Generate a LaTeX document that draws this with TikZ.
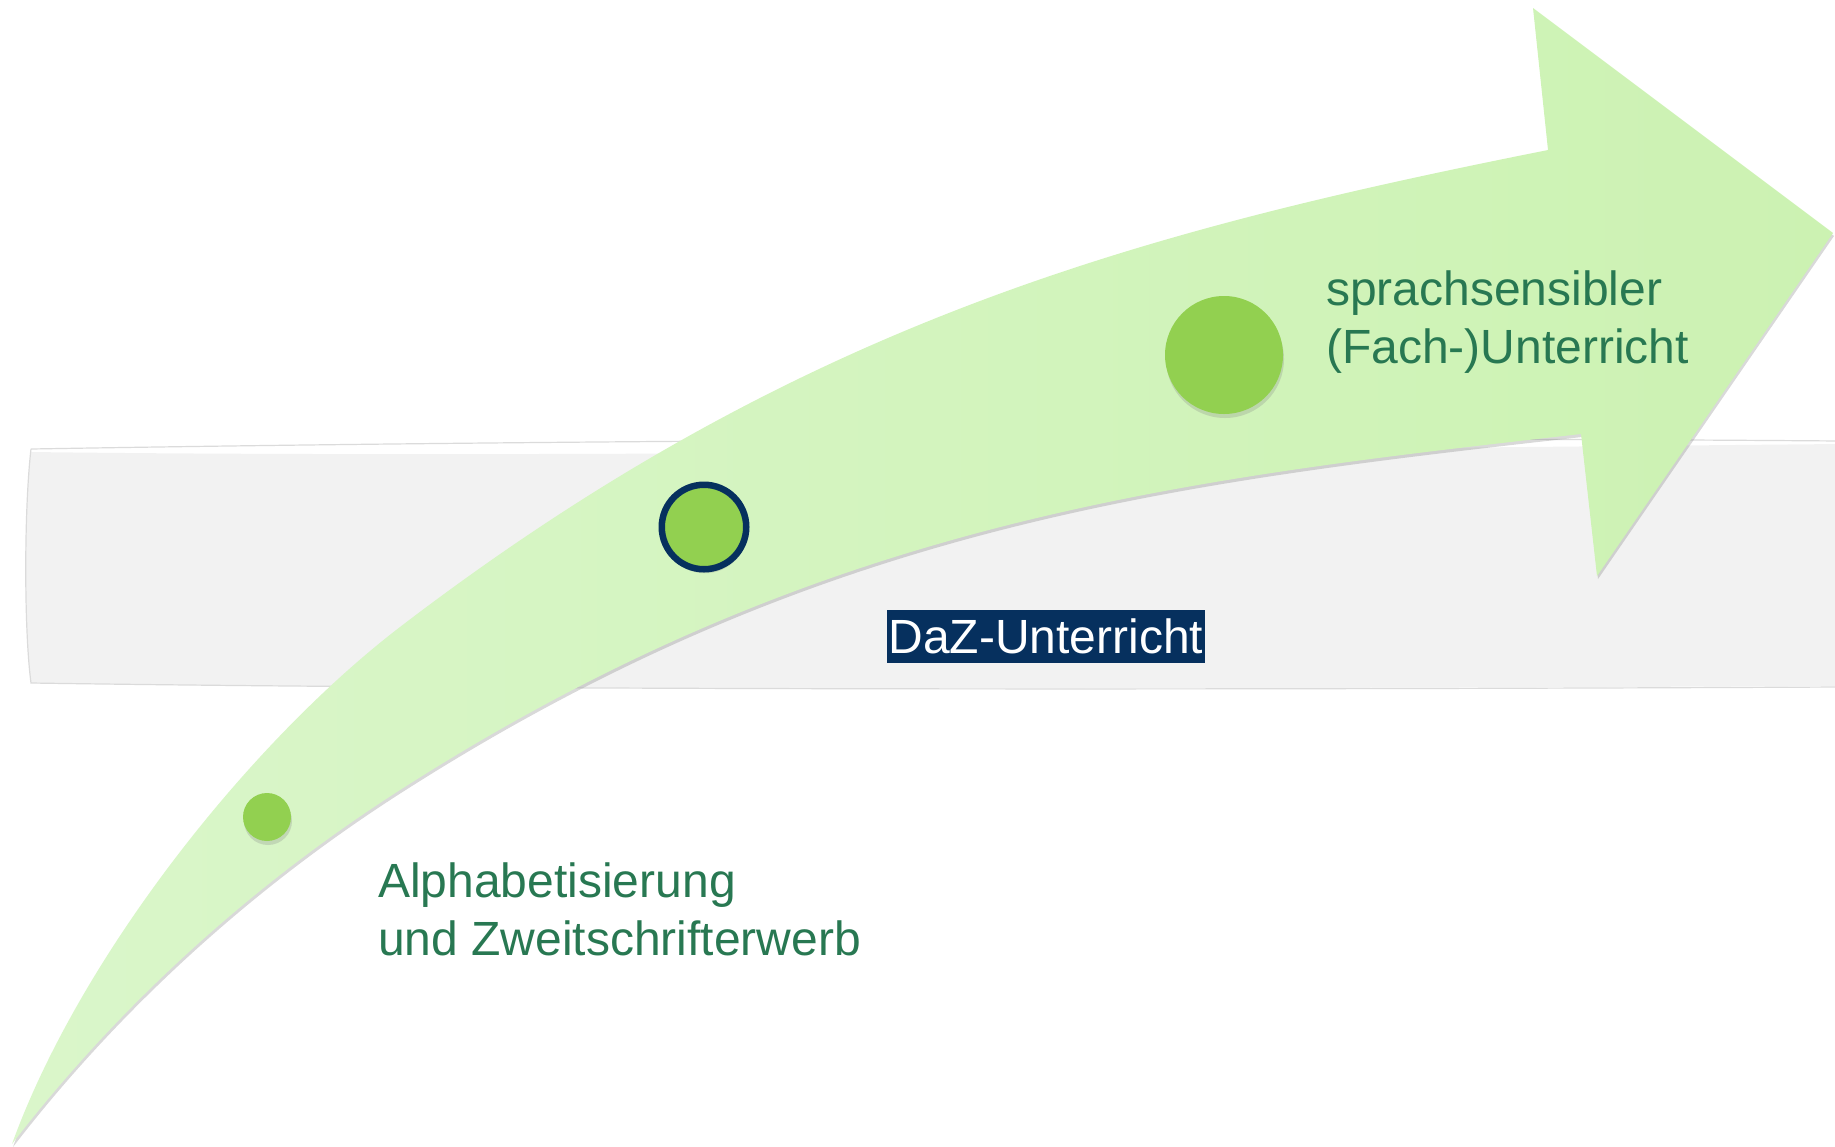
\documentclass[tikz,border=0pt]{standalone}
\usepackage{fontspec}
\setmainfont{Liberation Sans}
\usetikzlibrary{shadows}
\definecolor{arrowlight}{RGB}{218,246,202}
\definecolor{arrowdark}{RGB}{204,242,178}
\definecolor{dotgreen}{RGB}{146,208,80}
\definecolor{navy}{RGB}{6,48,94}
\definecolor{textgreen}{RGB}{40,120,82}
\definecolor{bandgray}{RGB}{242,242,242}
\begin{document}
\begin{tikzpicture}[
            x=1pt, y=-1pt,
            every node/.style={font=\fontsize{48}{57.5}\selectfont, inner sep=0pt},
            dot/.style={circle, fill=dotgreen, drop shadow={opacity=0.25, shadow xshift=1pt, shadow yshift=-4pt}},
            stage/.style={text=textgreen, align=left, anchor=north west},
            dazbox/.style={fill=navy, text=white, anchor=base, inner xsep=2pt, text height=43.4pt, text depth=10.2pt},
            bandline/.style={draw=black!14, line width=1.2pt}
            ]
            \useasboundingbox (0,0) rectangle (1835,1146);
            \fill[bandgray] (31,452) .. controls (500,458) and (1200,450) .. (1840,444)
              -- (1840,686) .. controls (1200,689) and (500,690) .. (31,683)
              .. controls (24,630) and (24,510) .. (31,452) -- cycle;
            \draw[bandline] (31,449) .. controls (500,441) and (1200,436) .. (1840,441);
            \draw[bandline] (31,449) .. controls (24,510) and (24,630) .. (31,683)
              .. controls (500,690) and (1200,690) .. (1840,687);
            \path[left color=arrowlight, right color=arrowdark,
                  drop shadow={opacity=0.3, shadow xshift=1pt, shadow yshift=-3pt}]
              (12,1144) .. controls (80,956) and (250,742) .. (400,627)
              .. controls (800,321) and (1142,231) .. (1548,150)
              -- (1533,8) -- (1833,233) -- (1597,576) -- (1581,434)
              .. controls (1173,480) and (820,521) .. (400,790)
              .. controls (253,884) and (119,1005) .. (12,1144) -- cycle;
            \node[dot, minimum size=48pt] (alphadot) at (267,817) {};
            \node[dot, minimum size=84.5pt, draw=navy, line width=6.5pt] (dazdot) at (704,527) {};
            \node[dot, minimum size=118pt] (fachdot) at (1224,355) {};
            \node[stage] (alpha) at (378,862.6) {Alphabetisierung\\und Zweitschrifterwerb};
            \node[stage] (fach) at (1326,270.6) {sprachsensibler\\(Fach-)Unterricht};
            \node[dazbox] (daz) at (1046,653) {DaZ-Unterricht};
\end{tikzpicture}
\end{document}
